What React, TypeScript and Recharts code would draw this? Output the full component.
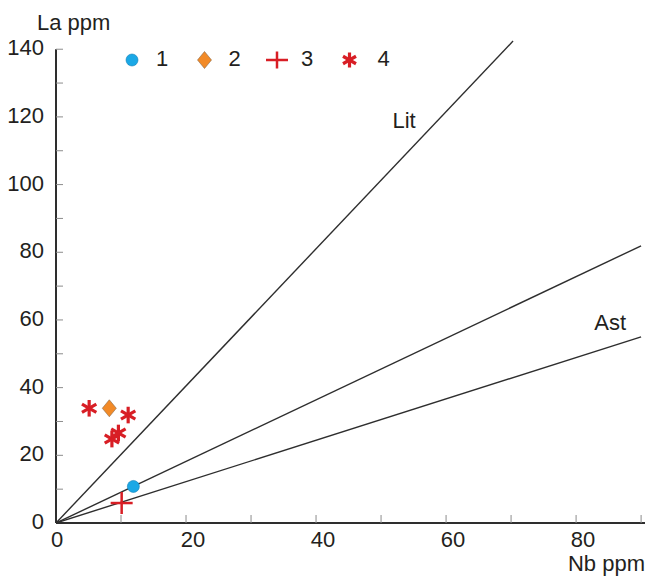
import React from 'react';
import { ComposedChart, XAxis, YAxis, Line, Scatter, ReferenceLine, ReferenceDot, Legend } from 'recharts';

// ---- data ----
const nbTicks = [0, 10, 20, 30, 40, 50, 60, 70, 80, 90];
const nbLabels = [0, 20, 40, 60, 80];
const laTicks = [0, 10, 20, 30, 40, 50, 60, 70, 80, 90, 100, 110, 120, 130, 140];
const laLabels = [0, 20, 40, 60, 80, 100, 120, 140];

const group1 = [{ nb: 11.9, la: 10.8 }];
const group2 = [{ nb: 8.2, la: 33.9 }];
const group3 = [{ nb: 10.1, la: 5.9 }];
const group4 = [
  { nb: 5.1, la: 33.9 },
  { nb: 11.1, la: 31.9 },
  { nb: 8.6, la: 24.8 },
  { nb: 9.6, la: 26.6 },
];

const litLine = [{ nb: 0, la: 0 }, { nb: 70.3, la: 142.4 }];
const midLine = [{ nb: 0, la: 0 }, { nb: 90, la: 81.9 }];
const astLine = [{ nb: 0, la: 0 }, { nb: 90, la: 55.0 }];

const lineLabels = [
  { name: 'Lit', nb: 53.7, la: 118.8 },
  { name: 'Ast', nb: 85.4, la: 59.1 },
];

const legendItems = [
  { label: '1', kind: 'circle' },
  { label: '2', kind: 'diamond' },
  { label: '3', kind: 'cross' },
  { label: '4', kind: 'asterisk' },
];

// ---- styles ----
const FONT = '"Liberation Sans", Arial, Helvetica, sans-serif';
const TEXT = '#231f20';
const BLUE = '#1aa8e6';
const ORANGE = '#f28a27';
const RED = '#d81e25';
const LINE = '#2e2e2e';

const Circle = ({ cx, cy }: any) => (
  <circle cx={cx} cy={cy} r={6} fill={BLUE} stroke="#1380b5" strokeWidth={0.6} />
);
const Diamond = ({ cx, cy }: any) => (
  <polygon
    points={`${cx},${cy - 8.5} ${cx + 7},${cy} ${cx},${cy + 8.5} ${cx - 7},${cy}`}
    fill={ORANGE}
    stroke="#8a6a4a"
    strokeWidth={0.6}
  />
);
const Cross = ({ cx, cy, h = 11 }: any) => (
  <g stroke={RED} strokeWidth={2.5}>
    <line x1={cx - 11} y1={cy} x2={cx + 11} y2={cy} />
    <line x1={cx} y1={cy - h} x2={cx} y2={cy + h} />
  </g>
);
const Asterisk = ({ cx, cy, r = 8.3 }: any) => {
  const angles = [90, 30, 150];
  return (
    <g stroke={RED} strokeWidth={3.2} strokeLinecap="butt">
      {angles.map((a) => {
        const dx = r * Math.cos((a * Math.PI) / 180);
        const dy = r * Math.sin((a * Math.PI) / 180);
        return <line key={a} x1={cx - dx} y1={cy - dy} x2={cx + dx} y2={cy + dy} />;
      })}
    </g>
  );
};

const XTick = (props: any) => {
  const { x, y, payload } = props;
  const v = payload.value;
  return (
    <g>
      {v !== 0 && <line x1={x} y1={y} x2={x} y2={y - 8} stroke="#8c8c8c" strokeWidth={1} />}
      {nbLabels.includes(v) && (
        <text x={x + (v === 0 ? 1 : 7)} y={y + 24} textAnchor="middle" fontSize={22} fontFamily={FONT} fill={TEXT}>
          {v}
        </text>
      )}
    </g>
  );
};

const YTick = (props: any) => {
  const { x, y, payload } = props;
  const v = payload.value;
  return (
    <g>
      {v !== 0 && <line x1={x} y1={y} x2={x + 7} y2={y} stroke="#8c8c8c" strokeWidth={1} />}
      {laLabels.includes(v) && (
        <text x={x - 12} y={y + 6} textAnchor="end" fontSize={22} fontFamily={FONT} fill={TEXT}>
          {v}
        </text>
      )}
    </g>
  );
};

const renderLegend = () => (
  <svg width={300} height={32} style={{ display: 'block', overflow: 'visible' }}>
    {legendItems.map((it, i) => {
      const cx = 14 + i * 72.5;
      const cy = 16;
      let icon = null;
      if (it.kind === 'circle') icon = <Circle cx={cx} cy={cy} />;
      else if (it.kind === 'diamond') icon = <Diamond cx={cx} cy={cy} />;
      else if (it.kind === 'cross') icon = <Cross cx={cx} cy={cy} h={8.5} />;
      else icon = <Asterisk cx={cx} cy={cy} r={7.5} />;
      return (
        <g key={it.label}>
          {icon}
          <text x={cx + 24 + (i === 3 ? 4 : 0)} y={21.5} fontSize={22} fontFamily={FONT} fill={TEXT}>
            {it.label}
          </text>
        </g>
      );
    })}
  </svg>
);

const LineLabel = (name: string) => (props: any) => {
  const { viewBox } = props;
  const cx = viewBox.cx ?? viewBox.x;
  const cy = viewBox.cy ?? viewBox.y;
  return (
    <text x={cx} y={cy + 8} textAnchor="middle" fontSize={22} fontFamily={FONT} fill={TEXT}>
      {name}
    </text>
  );
};

export default function App() {
  return (
    <div style={{ position: 'absolute', left: 0, top: 0, width: 645, height: 578, background: '#fff' }}>
      <ComposedChart
        width={645}
        height={578}
        margin={{ top: 32.3, right: 0, bottom: 0, left: 0 }}
        style={{ fontFamily: FONT }}
      >
        <XAxis
          type="number"
          dataKey="nb"
          domain={[0, 90.6]}
          allowDataOverflow
          ticks={nbTicks}
          interval={0}
          tick={<XTick />}
          tickSize={0}
          tickMargin={0}
          tickLine={false}
          axisLine={{ stroke: LINE, strokeWidth: 2 }}
          height={55}
        />
        <YAxis
          type="number"
          dataKey="la"
          domain={[0, 145]}
          allowDataOverflow
          ticks={laTicks}
          interval={0}
          tick={<YTick />}
          tickSize={0}
          tickMargin={0}
          tickLine={false}
          axisLine={false}
          width={56}
        />
        <ReferenceLine
          segment={[{ x: 0, y: 0 }, { x: 0, y: 140 }]}
          stroke={LINE}
          strokeWidth={2}
          ifOverflow="visible"
        />
        <Line data={litLine} dataKey="la" stroke={LINE} strokeWidth={1.4} dot={false} isAnimationActive={false} legendType="none" />
        <Line data={midLine} dataKey="la" stroke={LINE} strokeWidth={1.4} dot={false} isAnimationActive={false} legendType="none" />
        <Line data={astLine} dataKey="la" stroke={LINE} strokeWidth={1.4} dot={false} isAnimationActive={false} legendType="none" />
        {lineLabels.map((l) => (
          <ReferenceDot key={l.name} x={l.nb} y={l.la} r={1} fill="none" stroke="none" label={LineLabel(l.name)} />
        ))}
        <Scatter data={group4} dataKey="la" shape={<Asterisk />} isAnimationActive={false} />
        <Scatter data={group2} dataKey="la" shape={<Diamond />} isAnimationActive={false} />
        <Scatter data={group3} dataKey="la" shape={<Cross />} isAnimationActive={false} />
        <Scatter data={group1} dataKey="la" shape={<Circle />} isAnimationActive={false} />
        <Legend
          layout="horizontal"
          verticalAlign="middle"
          align="center"
          content={renderLegend}
          wrapperStyle={{ position: 'absolute', left: 118, top: 44, width: 300, height: 32 }}
        />
        <text x={37} y={30} fontSize={22} fontFamily={FONT} fill={TEXT}>La ppm</text>
        <text x={645} y={571} textAnchor="end" fontSize={22} fontFamily={FONT} fill={TEXT}>Nb ppm</text>
      </ComposedChart>
    </div>
  );
}
